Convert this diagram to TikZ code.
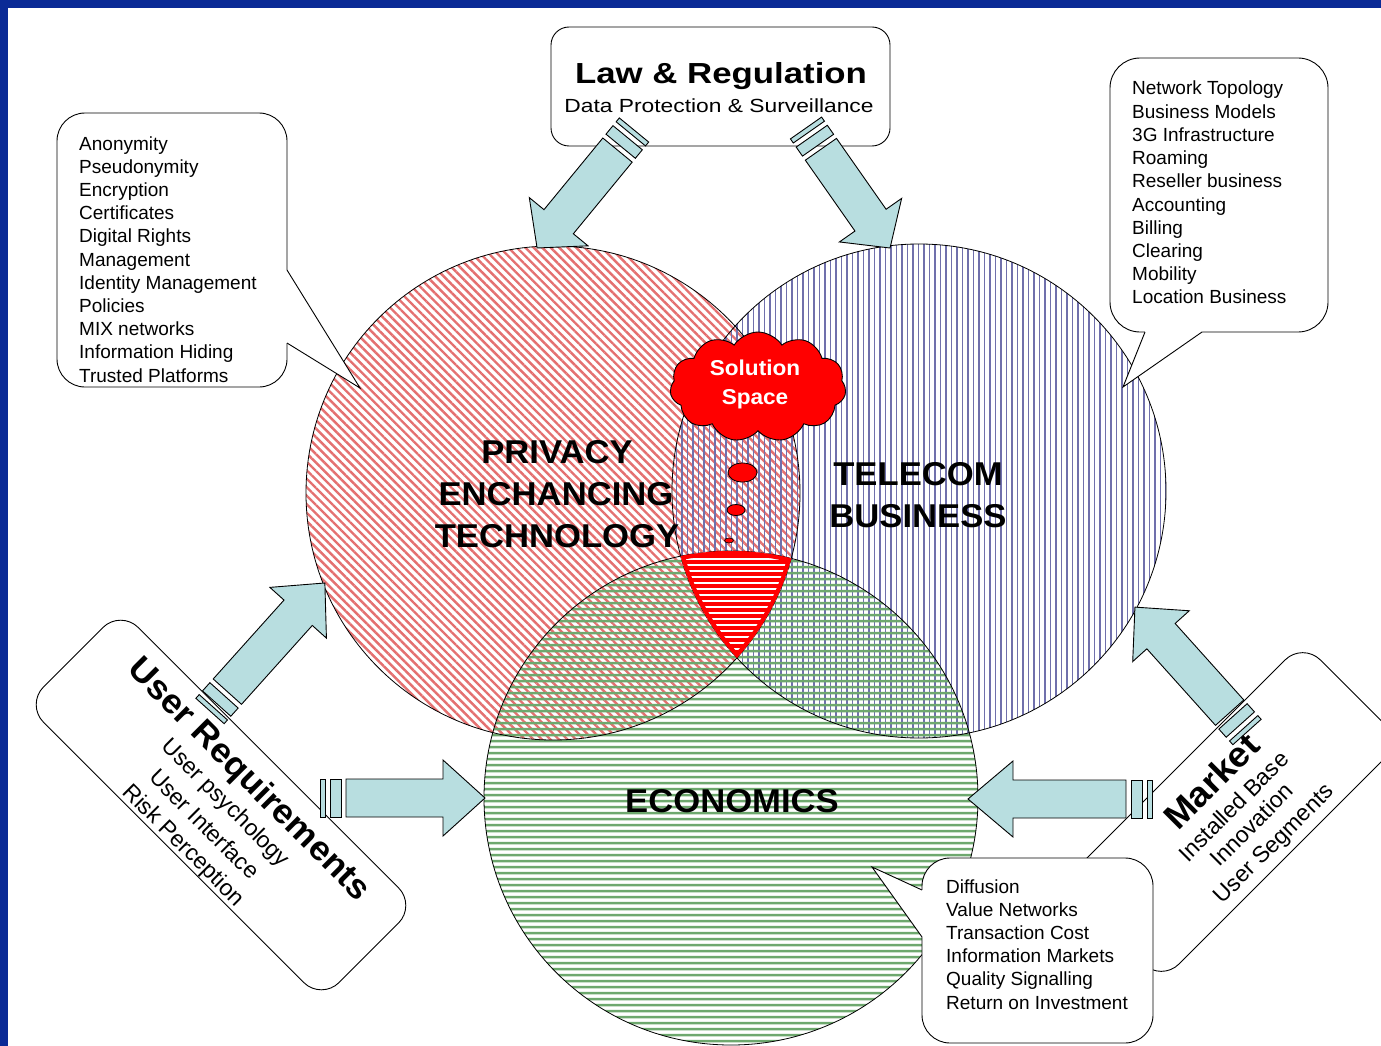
\documentclass[tikz,border=0pt]{standalone}
\usepackage{fontspec}
\setmainfont{Liberation Sans}
\newfontfamily\widefont[FakeStretch=1.2]{Liberation Sans}
\newfontfamily\labelfont[FakeStretch=1.05]{Liberation Sans}
\usetikzlibrary{patterns.meta,shapes.symbols,shapes.geometric}
\definecolor{barblue}{RGB}{10,42,150}
\definecolor{arrowfill}{RGB}{184,222,224}
\definecolor{pethatch}{RGB}{228,112,112}
\definecolor{telhatch}{RGB}{112,112,172}
\definecolor{ecohatch}{RGB}{110,168,110}
% name, tail x, tail y, angle, length, head length
\newcommand{\stripedarrow}[6]{%
  \begin{scope}[shift={(#2,#3)}, rotate=#4]
    \draw[blockarrow] (0,-19) rectangle (5,19);
    \draw[blockarrow] (10,-19) rectangle (21,19);
    \draw[blockarrow] (26,-19) -- ({#5-#6},-19) -- ({#5-#6},-38) -- (#5,0) -- ({#5-#6},38) -- ({#5-#6},19) -- (26,19) -- cycle;
    \coordinate (#1) at (#5,0);
  \end{scope}}
\begin{document}
\begin{tikzpicture}[x=1pt,y=-1pt,
  boxshape/.style={rectangle, draw=black, line width=0.9pt, fill=white, inner sep=0pt, outer sep=0pt},
  blockarrow/.style={draw=black, line width=0.9pt, fill=arrowfill, line join=miter},
  calloutline/.style={draw=black, line width=0.9pt},
  circline/.style={draw=black, line width=0.8pt},
  listtext/.style={font={\fontsize{19}{23}\selectfont}, inner sep=0pt, anchor=base west},
  biglabel/.style={font={\labelfont\bfseries\fontsize{33}{40}\selectfont}, inner sep=0pt, anchor=base},
  rothead/.style={font={\labelfont\bfseries\fontsize{34}{40}\selectfont}, inner sep=0pt, anchor=base},
  rotsub/.style={font={\fontsize{23}{28}\selectfont}, inner sep=0pt, anchor=base}]
\useasboundingbox (0,0) rectangle (1381,1046);
\clip (0,0) rectangle (1381,1046);
\fill[white] (0,0) rectangle (1381,1046);

% ---------- boxes ----------
\node[boxshape, rounded corners=18pt, minimum width=339pt, minimum height=119pt] (lawbox) at (720.5,86.5) {};
\node[font={\widefont\bfseries\fontsize{29}{34}\selectfont}, anchor=base, inner sep=0pt] (lawtitle) at (721,84) {Law \& Regulation};
\node[font={\widefont\fontsize{19}{23}\selectfont}, anchor=base, inner sep=0pt] (lawsub) at (719,113) {Data Protection \& Surveillance};

\node[boxshape, rounded corners=25pt, minimum width=418pt, minimum height=134pt, rotate=-45] (userbox) at (221,805) {};
\begin{scope}[shift={(221,805)}, rotate=-45]
  \node[rothead, rotate=-45] (usertitle) at (2,-28) {User Requirements};
  \node[rotsub, rotate=-45] (user1) at (2,2) {User psychology};
  \node[rotsub, rotate=-45] (user2) at (2,33) {User Interface};
  \node[rotsub, rotate=-45] (user3) at (2,62) {Risk Perception};
\end{scope}

\node[boxshape, rounded corners=25pt, minimum width=340pt, minimum height=140pt, rotate=45] (marketbox) at (1232,812) {};
\begin{scope}[shift={(1232,812)}, rotate=45]
  \node[rothead, rotate=45, font={\labelfont\bfseries\fontsize{35}{40}\selectfont}] (markettitle) at (7,-24) {Market};
  \node[rotsub, rotate=45] (market1) at (5,5) {Installed Base};
  \node[rotsub, rotate=45] (market2) at (5,31) {Innovation};
  \node[rotsub, rotate=45] (market3) at (7,59) {User Segments};
\end{scope}

% ---------- circles ----------
\coordinate (petc) at (553,493);
\coordinate (telc) at (919,491);
\coordinate (ecoc) at (731,798);
\fill[white] (petc) circle[radius=247pt] (telc) circle[radius=247pt] (ecoc) circle[radius=247pt];
\fill[pattern={Lines[angle=-45,distance=6pt,line width=2.4pt]}, pattern color=pethatch] (petc) circle[radius=247pt];
\fill[pattern={Lines[angle=90,distance=5.5pt,line width=1.9pt]}, pattern color=telhatch] (telc) circle[radius=247pt];
\fill[pattern={Lines[angle=0,distance=6.4pt,line width=2.8pt]}, pattern color=ecohatch] (ecoc) circle[radius=247pt];
\draw[circline] (petc) circle[radius=247pt] (telc) circle[radius=247pt] (ecoc) circle[radius=247pt];

% triple intersection (solution region)
\begin{scope}
  \clip (petc) circle[radius=247pt];
  \clip (telc) circle[radius=247pt];
  \clip (ecoc) circle[radius=247pt];
  \fill[red] (ecoc) circle[radius=247pt];
  \fill[pattern={Lines[angle=0,distance=6.4pt,line width=2pt]}, pattern color=white] (ecoc) circle[radius=247pt];
  \draw[red, line width=8pt] (petc) circle[radius=247pt] (telc) circle[radius=247pt] (ecoc) circle[radius=247pt];
\end{scope}

% circle labels
\node[biglabel] (pet1) at (557,463) {PRIVACY};
\node[biglabel] (pet2) at (556,505) {ENCHANCING};
\node[biglabel] (pet3) at (557,547) {TECHNOLOGY};
\node[biglabel] (tel1) at (918,485) {TELECOM};
\node[biglabel] (tel2) at (918,527) {BUSINESS};
\node[biglabel] (eco1) at (732,812) {ECONOMICS};

% solution space cloud
\node[cloud, cloud puffs=11, cloud puff arc=115, cloud ignores aspect, minimum width=176pt, minimum height=110pt, draw=black, fill=red, line width=0.9pt, inner sep=0pt] (cloud) at (758,387) {};
\node[font={\labelfont\bfseries\fontsize{21.5}{30}\selectfont}, text=white, anchor=base, inner sep=0pt] (sol1) at (755,375) {Solution};
\node[font={\labelfont\bfseries\fontsize{21.5}{30}\selectfont}, text=white, anchor=base, inner sep=0pt] (sol2) at (755,404) {Space};
\node[ellipse, draw=black, fill=red, line width=0.8pt, minimum width=29pt, minimum height=19pt, inner sep=0pt] (bub1) at (742.5,472.5) {};
\node[ellipse, draw=black, fill=red, line width=0.8pt, minimum width=18pt, minimum height=11pt, inner sep=0pt] (bub2) at (736,510) {};
\node[ellipse, draw=black, fill=red, line width=0.6pt, minimum width=9pt, minimum height=5pt, inner sep=0pt] (bub3) at (729,540.5) {};

% ---------- striped block arrows ----------
\stripedarrow{lawpettip}{634}{130}{-129.4}{152.7}{34}
\stripedarrow{lawteltip}{806}{128}{-55}{146.5}{34}
\stripedarrow{userpettip}{210}{711}{48.1}{172}{40}
\stripedarrow{userecotip}{320}{798}{0}{165}{42}
\stripedarrow{markettelTip}{1247}{732}{131.9}{167.8}{39}
\stripedarrow{marketecotip}{1152}{799}{180}{184}{45}

% ---------- callouts ----------
% PET
\draw[calloutline, fill=white, rounded corners=28pt] (57,113) rectangle (287,387);
\fill[white] (279,270) -- (287,270) -- (360,388) -- (287,343) -- (279,343) -- cycle;
\draw[calloutline, line join=miter] (287,270) -- (360,388) -- (287,343);
\foreach \t [count=\i from 0] in {Anonymity,Pseudonymity,Encryption,Certificates,Digital Rights,Management,Identity Management,Policies,MIX networks,Information Hiding,Trusted Platforms}
  \node[listtext] (petitem\i) at (79,{150+23.2*\i}) {\t};

% Telecom
\draw[calloutline, fill=white, rounded corners=30pt] (1110,58) rectangle (1328,332);
\fill[white] (1145,324) -- (1145,332) -- (1123,387) -- (1202,332) -- (1202,324) -- cycle;
\draw[calloutline, line join=miter] (1145,332) -- (1123,387) -- (1202,332);
\foreach \t [count=\i from 0] in {Network Topology,Business Models,3G Infrastructure,Roaming,Reseller business,Accounting,Billing,Clearing,Mobility,Location Business}
  \node[listtext] (telitem\i) at (1132,{95+23.2*\i}) {\t};

% Economics
\draw[calloutline, fill=white, rounded corners=28pt] (922,858) rectangle (1153,1043);
\fill[white] (930,890) -- (922,890) -- (872,867) -- (922,937) -- (930,937) -- cycle;
\draw[calloutline, line join=miter] (922,890) -- (872,867) -- (922,937);
\foreach \t [count=\i from 0] in {Diffusion,Value Networks,Transaction Cost,Information Markets,Quality Signalling,Return on Investment}
  \node[listtext] (ecoitem\i) at (946,{893+23.2*\i}) {\t};

% frame bars
\fill[barblue] (0,0) rectangle (8,1046);
\fill[barblue] (0,0) rectangle (1381,8);
\end{tikzpicture}
\end{document}
